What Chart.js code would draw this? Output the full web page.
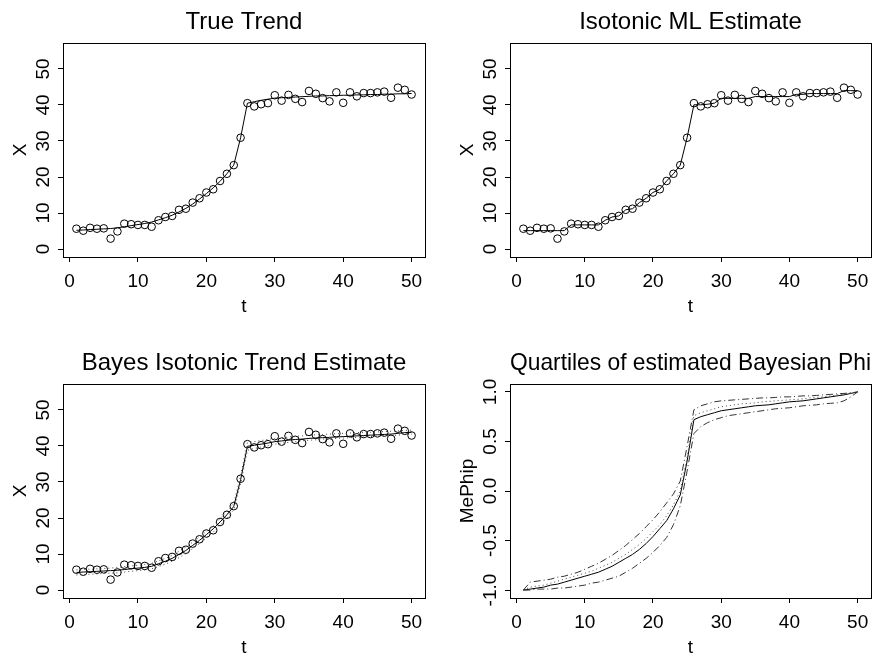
<!DOCTYPE html>
<html>
<head>
<meta charset="utf-8">
<script src="https://cdn.jsdelivr.net/npm/chart.js@4.4.1/dist/chart.umd.min.js"></script>
<style>
  body { margin: 0; background: #fff; }
  canvas { position: absolute; }
</style>
</head>
<body>
<canvas id="c1" width="447" height="341" style="left:0;top:0"></canvas>
<canvas id="c2" width="430" height="341" style="left:447px;top:0"></canvas>
<canvas id="c3" width="447" height="322" style="left:0;top:341px"></canvas>
<canvas id="c4" width="430" height="322" style="left:447px;top:341px"></canvas>
<script>
// time index
var t = [1,2,3,4,5,6,7,8,9,10,11,12,13,14,15,16,17,18,19,20,21,22,23,24,25,
         26,27,28,29,30,31,32,33,34,35,36,37,38,39,40,41,42,43,44,45,46,47,48,49,50];

// observed X (circles)
var obs = [5.65,5.1,5.9,5.65,5.75,2.9,4.9,7.05,6.9,6.7,6.7,6.2,8.0,8.9,9.2,10.9,11.2,12.9,14.1,15.7,
           16.6,18.9,20.9,23.3,30.9,40.5,39.6,40.2,40.5,42.7,41.2,42.8,41.7,40.8,43.9,43.1,41.9,41.0,43.5,40.6,
           43.5,42.4,43.3,43.3,43.5,43.7,42.0,44.8,44.2,42.9];

// true trend
var trend = [5.2,5.3,5.4,5.5,5.6,5.7,5.9,6.2,6.5,6.8,7.1,7.5,8.1,8.7,9.4,10.3,11.3,12.5,13.9,15.4,
             17.0,18.8,20.9,23.3,30.9,40.5,40.9,41.3,41.6,41.9,42.0,42.1,42.2,42.3,42.4,42.5,42.5,42.6,42.6,42.7,
             42.7,42.8,42.8,42.9,42.9,43.0,43.0,43.1,43.1,43.2];

// isotonic ML fit
var isoML = [5.12,5.12,5.12,5.12,5.12,5.12,5.12,6.71,6.71,6.71,6.71,6.71,8.0,8.9,9.2,10.9,11.2,12.9,14.1,15.7,
             16.6,18.9,20.9,23.3,30.9,40.05,40.05,40.2,40.5,41.84,41.84,41.84,41.84,41.84,42.33,42.33,42.33,42.33,42.33,42.33,
             42.95,42.95,43.16,43.16,43.16,43.16,43.16,43.97,43.97,43.97];

// Bayes isotonic estimate and dotted bounds
var bayesFit = [4.9,5.0,5.1,5.2,5.3,5.4,5.5,5.7,5.9,6.1,6.3,6.6,7.3,8.0,8.8,9.9,11.0,12.4,13.8,15.4,
                17.0,18.9,20.9,23.2,30.6,39.9,40.2,40.5,40.8,41.2,41.4,41.6,41.8,41.9,42.1,42.2,42.3,42.4,42.5,42.6,
                42.7,42.8,42.9,43.0,43.1,43.2,43.3,43.5,43.7,43.8];
var bayesLow = [4.2,4.3,4.4,4.5,4.6,4.7,4.8,5.0,5.2,5.4,5.6,5.9,6.5,7.2,8.0,9.0,10.1,11.5,12.9,14.5,
                16.1,18.0,20.0,22.3,29.5,38.8,39.3,39.7,40.1,40.5,40.8,41.0,41.2,41.4,41.6,41.7,41.9,42.0,42.1,42.2,
                42.3,42.4,42.5,42.6,42.7,42.8,42.9,43.0,43.2,43.3];
var bayesUp = [5.6,5.7,5.8,5.9,6.0,6.1,6.3,6.5,6.7,6.9,7.1,7.4,8.1,8.8,9.6,10.8,11.9,13.3,14.7,16.3,
               17.9,19.8,21.8,24.1,31.7,40.9,41.2,41.5,41.8,42.1,42.3,42.5,42.7,42.8,43.0,43.1,43.2,43.3,43.4,43.5,
               43.6,43.7,43.7,43.8,43.9,44.0,44.1,44.2,44.3,44.4];

// quartiles of Phi
var phiMed = [-1.00,-0.99,-0.98,-0.97,-0.95,-0.94,-0.92,-0.90,-0.88,-0.86,-0.84,-0.82,-0.79,-0.76,-0.72,-0.68,-0.64,-0.59,-0.53,-0.46,
              -0.38,-0.30,-0.18,-0.04,0.30,0.72,0.75,0.77,0.79,0.81,0.82,0.83,0.84,0.85,0.86,0.865,0.87,0.88,0.89,0.90,
              0.905,0.91,0.92,0.93,0.94,0.95,0.96,0.97,0.985,1.00];
var phiMean = [-1.00,-0.97,-0.96,-0.95,-0.93,-0.91,-0.89,-0.87,-0.85,-0.83,-0.81,-0.78,-0.75,-0.72,-0.68,-0.64,-0.59,-0.54,-0.48,-0.41,
               -0.34,-0.25,-0.14,0.00,0.34,0.76,0.79,0.81,0.83,0.85,0.86,0.87,0.88,0.885,0.89,0.90,0.905,0.91,0.915,0.92,
               0.925,0.93,0.94,0.945,0.95,0.96,0.97,0.975,0.99,1.00];
var phiUp = [-1.00,-0.92,-0.91,-0.90,-0.89,-0.87,-0.86,-0.84,-0.82,-0.79,-0.76,-0.73,-0.69,-0.65,-0.60,-0.55,-0.49,-0.43,-0.36,-0.29,
             -0.21,-0.12,-0.03,0.10,0.45,0.82,0.86,0.88,0.90,0.91,0.915,0.92,0.925,0.93,0.935,0.94,0.94,0.945,0.95,0.95,
             0.955,0.96,0.96,0.965,0.97,0.975,0.98,0.985,0.99,1.00];
var phiLow = [-1.00,-1.00,-0.99,-0.99,-0.99,-0.98,-0.98,-0.97,-0.96,-0.95,-0.93,-0.92,-0.90,-0.88,-0.86,-0.82,-0.78,-0.73,-0.68,-0.62,
              -0.55,-0.47,-0.34,-0.15,0.20,0.58,0.65,0.69,0.72,0.74,0.76,0.77,0.78,0.79,0.80,0.81,0.82,0.83,0.835,0.84,
              0.85,0.86,0.865,0.87,0.88,0.885,0.89,0.91,0.95,1.00];

// ticks
var xTicks = [0,10,20,30,40,50];
var xLevelTicks = [0,10,20,30,40,50];
var phiTicks = [-1,-0.5,0,0.5,1];
var phiTickLabels = ['-1.0','-0.5','0.0','0.5','1.0'];

var FONT = '"Liberation Sans", Arial, sans-serif';

function pts(vals) {
  return t.map(function (v, i) { return { x: v, y: vals[i] }; });
}
function circles(vals) {
  return { data: pts(vals), showLine: false, pointRadius: 3.8, pointBorderWidth: 1,
           pointBackgroundColor: 'rgba(0,0,0,0)', borderColor: '#000', pointBorderColor: '#000' };
}
function line(vals, dash, color) {
  return { data: pts(vals), showLine: true, pointRadius: 0, borderWidth: 1,
           borderColor: color || '#000', borderDash: dash || [], tension: 0 };
}

// box around plot + rotated y tick labels, R style
var frame = {
  id: 'frame',
  afterDraw: function (chart, args, opts) {
    var ctx = chart.ctx, a = chart.chartArea, y = chart.scales.y;
    ctx.save();
    ctx.strokeStyle = '#000';
    ctx.lineWidth = 1;
    ctx.strokeRect(a.left + 0.5, a.top + 0.5, a.right - a.left, a.bottom - a.top);
    ctx.font = '19px ' + FONT;
    ctx.fillStyle = '#000';
    ctx.textAlign = 'center';
    ctx.textBaseline = 'middle';
    opts.ticks.forEach(function (v, i) {
      ctx.save();
      ctx.translate(a.left - 19, y.getPixelForValue(v));
      ctx.rotate(-Math.PI / 2);
      ctx.fillText(opts.labels[i], 0, 0);
      ctx.restore();
    });
    ctx.restore();
  }
};

function makeChart(id, title, yTitle, ymin, ymax, yTicks, yLabels, datasets) {
  var cv = document.getElementById(id);
  var H = cv.height, W = cv.width;
  var xh = H - 257;
  return new Chart(cv, {
    type: 'scatter',
    data: { datasets: datasets },
    options: {
      responsive: false,
      animation: false,
      layout: { padding: { left: 0, top: 0, bottom: 0, right: W - 424 + (W > 440 ? -1 : 0) } },
      plugins: {
        legend: { display: false },
        tooltip: { enabled: false },
        title: { display: true, text: title, color: '#000', fullSize: false,
                 font: { family: FONT, size: 24, weight: 'normal', lineHeight: 1.2 },
                 padding: { top: 7.6, bottom: 6.6 } },
        frame: { ticks: yTicks, labels: yLabels }
      },
      scales: {
        x: {
          type: 'linear', min: -0.96, max: 51.96,
          afterBuildTicks: function (s) { s.ticks = xTicks.map(function (v) { return { value: v }; }); },
          afterFit: function (s) { s.height = xh; },
          grid: { drawOnChartArea: false, drawTicks: true, tickLength: 5, color: '#000' },
          border: { display: false },
          ticks: { color: '#000', font: { family: FONT, size: 19 }, padding: 8, maxRotation: 0, autoSkip: false },
          title: { display: true, text: 't', color: '#000', font: { family: FONT, size: 19, lineHeight: 1.2 },
                   padding: { top: 0, bottom: xh - 50 - 11.4 } }
        },
        y: {
          type: 'linear', min: ymin, max: ymax,
          afterBuildTicks: function (s) { s.ticks = yTicks.map(function (v) { return { value: v }; }); },
          afterFit: function (s) { s.width = 63; },
          grid: { drawOnChartArea: false, drawTicks: true, tickLength: 5, color: '#000' },
          border: { display: false },
          ticks: { display: false },
          title: { display: true, text: yTitle, color: '#000', font: { family: FONT, size: 19, lineHeight: 1.2 },
                   padding: { top: 9, bottom: 0 } }
        }
      }
    },
    plugins: [frame]
  });
}

var xLabels = xLevelTicks.map(String);

makeChart('c1', 'True Trend', 'X', -2.2, 57.2, xLevelTicks, xLabels,
  [line(trend), circles(obs)]);
makeChart('c2', 'Isotonic ML Estimate', 'X', -2.2, 57.2, xLevelTicks, xLabels,
  [line(isoML), circles(obs)]);
makeChart('c3', 'Bayes Isotonic Trend Estimate', 'X', -2.2, 57.2, xLevelTicks, xLabels,
  [line(bayesLow, [1, 3], '#444'), line(bayesUp, [1, 3], '#444'), line(bayesFit), circles(obs)]);
makeChart('c4', 'Quartiles of estimated Bayesian Phi', 'MePhip', -1.08, 1.08, phiTicks, phiTickLabels,
  [line(phiUp, [7, 3, 1, 3], '#333'), line(phiLow, [7, 3, 1, 3], '#333'), line(phiMean, [1, 3], '#444'), line(phiMed)]);
</script>
</body>
</html>
